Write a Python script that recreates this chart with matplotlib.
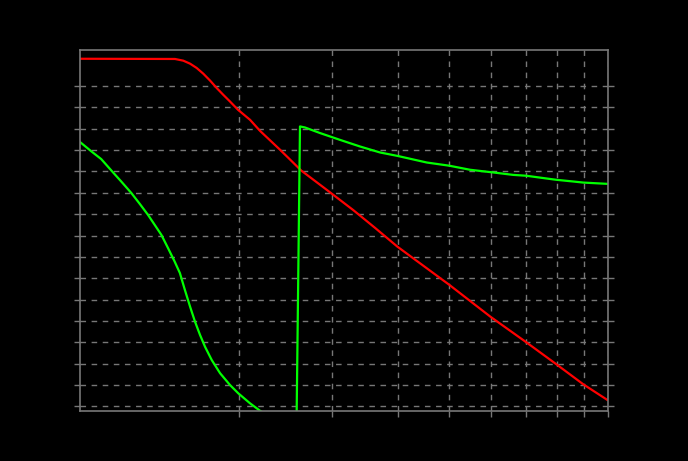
import numpy as np
import matplotlib
matplotlib.use("Agg")
import matplotlib.pyplot as plt

# frequency axis: log scale, one decade (1..10)
# red trace (magnitude)
red_freq = [1.000, 1.513, 1.569, 1.616, 1.663, 1.712, 1.763, 1.815, 1.868,
            1.923, 1.992, 2.099, 2.193, 2.392, 2.499, 2.622,
            2.933, 3.289, 3.620, 3.991, 5.005, 5.986, 7.002, 7.983, 8.979,
            9.970]
red_val = [162.8, 162.7, 161.9, 160.5, 158.5, 155.8, 152.6, 149.1, 145.9,
           142.8, 138.9, 134.2, 129.0, 120.2, 115.6, 110.5,
           101.4, 92.0, 83.6, 74.8, 56.9, 42.0, 30.0, 19.7, 10.3, 3.0]

# green trace (phase), wraps around near f = 2.6
green_freq = [1.000, 1.051, 1.097, 1.146, 1.197, 1.251, 1.298, 1.345, 1.385,
              1.426, 1.468, 1.511, 1.546, 1.580, 1.616, 1.651, 1.688, 1.725,
              1.776, 1.842, 1.923, 1.994, 2.099, 2.193, 2.392, 2.570,
              2.610, 2.668, 2.848, 3.108, 3.391, 3.700, 3.991, 4.536, 5.005,
              5.479, 5.986, 6.615, 7.002, 7.655, 7.983, 8.596, 8.979, 9.970]
green_val = [123.8, 119.4, 115.8, 110.5, 105.3, 99.9, 94.8, 89.7, 85.0,
             80.3, 74.1, 67.8, 62.4, 54.5, 46.7, 39.7, 33.4, 27.9, 21.7,
             15.5, 10.0, 6.1, 1.4, -2.1, -7.4, -12.0,
             131.1, 130.6, 128.0, 124.8, 121.7, 118.9, 117.3, 114.2, 112.7,
             110.8, 109.7, 108.4, 108.0, 106.7, 106.1, 105.3, 104.8, 104.2]

fig = plt.figure(figsize=(6.88, 4.61), dpi=100, facecolor="black")
ax = fig.add_axes([80 / 688, 1 - 411 / 461, 528 / 688, 361 / 461])
ax.set_facecolor("black")

ax.plot(red_freq, red_val, color="#ff0000", linewidth=1.6)
ax.plot(green_freq, green_val, color="#00ff00", linewidth=1.6)

ax.set_xscale("log")
ax.set_xlim(1, 10)
ax.set_ylim(-2.2, 166.9)

ax.set_xticks([2, 3, 4, 5, 6, 7, 8, 9, 10])
ax.set_xticks([], minor=True)
ax.set_yticks(np.arange(0, 151, 10))

ax.grid(True, color="#777777", linestyle=(0, (4, 4)), linewidth=1.0)
for s in ax.spines.values():
    s.set_color("#777777")
    s.set_linewidth(1.2)

ax.tick_params(axis="both", colors="#777777", length=4, width=1.0,
               labelleft=False, labelbottom=False)
ax.tick_params(axis="y", right=True)

fig.savefig("out.png", dpi=100, facecolor="black")
